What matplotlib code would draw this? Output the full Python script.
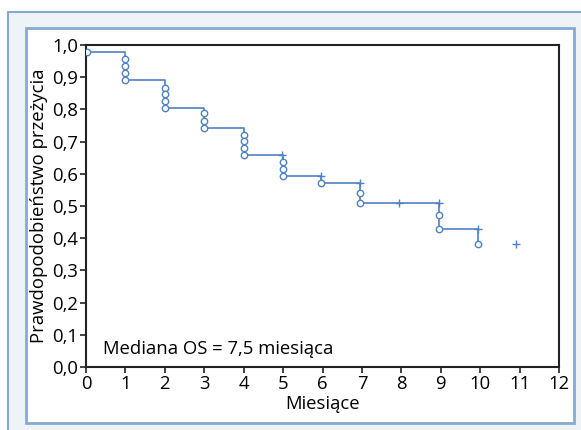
import matplotlib
matplotlib.use("Agg")
import matplotlib.pyplot as plt
from matplotlib.patches import Rectangle

plt.rcParams['font.family'] = ['Open Sans', 'DejaVu Sans']

# Kaplan-Meier step curve (time of step, survival level after step)
step_times = [0.0, 1.0, 2.0, 2.99, 4.0, 5.0, 5.96, 6.95, 8.96, 9.95]
step_levels = [0.978, 0.891, 0.805, 0.742, 0.658, 0.593, 0.570, 0.508, 0.428, 0.383]

# events (open circles)
event_t = [0.03, 1.0, 1.0, 1.0, 1.0, 2.0, 2.0, 2.0, 2.0, 2.99, 2.99, 2.99,
           4.0, 4.0, 4.0, 4.0, 5.0, 5.0, 5.0, 5.96, 6.95, 6.95, 8.96, 8.96, 9.95]
event_s = [0.978, 0.955, 0.935, 0.914, 0.891, 0.867, 0.847, 0.826, 0.805,
           0.790, 0.765, 0.742, 0.722, 0.701, 0.680, 0.658, 0.636, 0.614, 0.593,
           0.570, 0.540, 0.508, 0.473, 0.428, 0.383]

# censored (plus marks)
cens_t = [4.98, 5.96, 6.95, 7.95, 8.96, 9.95, 10.92]
cens_s = [0.658, 0.593, 0.570, 0.508, 0.508, 0.428, 0.383]

x_ticks = list(range(0, 13))
y_ticks = [0.0, 0.1, 0.2, 0.3, 0.4, 0.5, 0.6, 0.7, 0.8, 0.9, 1.0]
y_ticklabels = ['0,0', '0,1', '0,2', '0,3', '0,4', '0,5', '0,6', '0,7', '0,8', '0,9', '1,0']

W, H = 581, 430
fig = plt.figure(figsize=(W / 100, H / 100), dpi=100)

def px_rect(x0, y0, x1, y1, **kw):
    return Rectangle((x0 / W, 1 - y1 / H), (x1 - x0) / W, (y1 - y0) / H,
                     transform=fig.transFigure, zorder=-10, **kw)

fig.patches.append(px_rect(8, 12, 600, 450, facecolor='#eef3f8', edgecolor='#86aad2', lw=1.5))
fig.patches.append(px_rect(26, 28, 574, 423, facecolor='white', edgecolor='#86aad2', lw=2))

ax = fig.add_axes([86 / W, 1 - 367 / H, (559 - 86) / W, (367 - 45) / H])
ax.set_facecolor('none')
ax.set_zorder(5)

blue = '#4f82c3'
# build step path
xs, ys = [], []
for i, (t, s) in enumerate(zip(step_times, step_levels)):
    if i == 0:
        xs.append(t); ys.append(s)
    else:
        xs += [t, t]; ys += [step_levels[i - 1], s]
ax.plot(xs, ys, color=blue, lw=1.2, zorder=2)
ax.plot(event_t, event_s, linestyle='none', marker='o', ms=4.6, mfc='white',
        mec=blue, mew=1.0, zorder=3)
ax.plot(cens_t, cens_s, linestyle='none', marker='+', ms=6, mec=blue,
        mew=1.0, zorder=3)

ax.set_xlim(0, 12)
ax.set_ylim(0, 1.0)
ax.set_xticks(x_ticks)
ax.set_yticks(y_ticks)
ax.set_yticklabels(y_ticklabels)
ax.tick_params(labelsize=13.3, length=4, width=1.2, color='#222222', pad=1.5)
for sp in ax.spines.values():
    sp.set_color('#222222')
    sp.set_linewidth(1.5)

ax.set_xlabel('Miesiące', fontsize=13.3, labelpad=2)
ax.set_ylabel('Prawdopodobieństwo przeżycia', fontsize=13.3, labelpad=3)
ax.text(0.43, 0.04, 'Mediana OS = 7,5 miesiąca', fontsize=13.3, va='baseline', ha='left')

fig.savefig('out.png', dpi=100)
